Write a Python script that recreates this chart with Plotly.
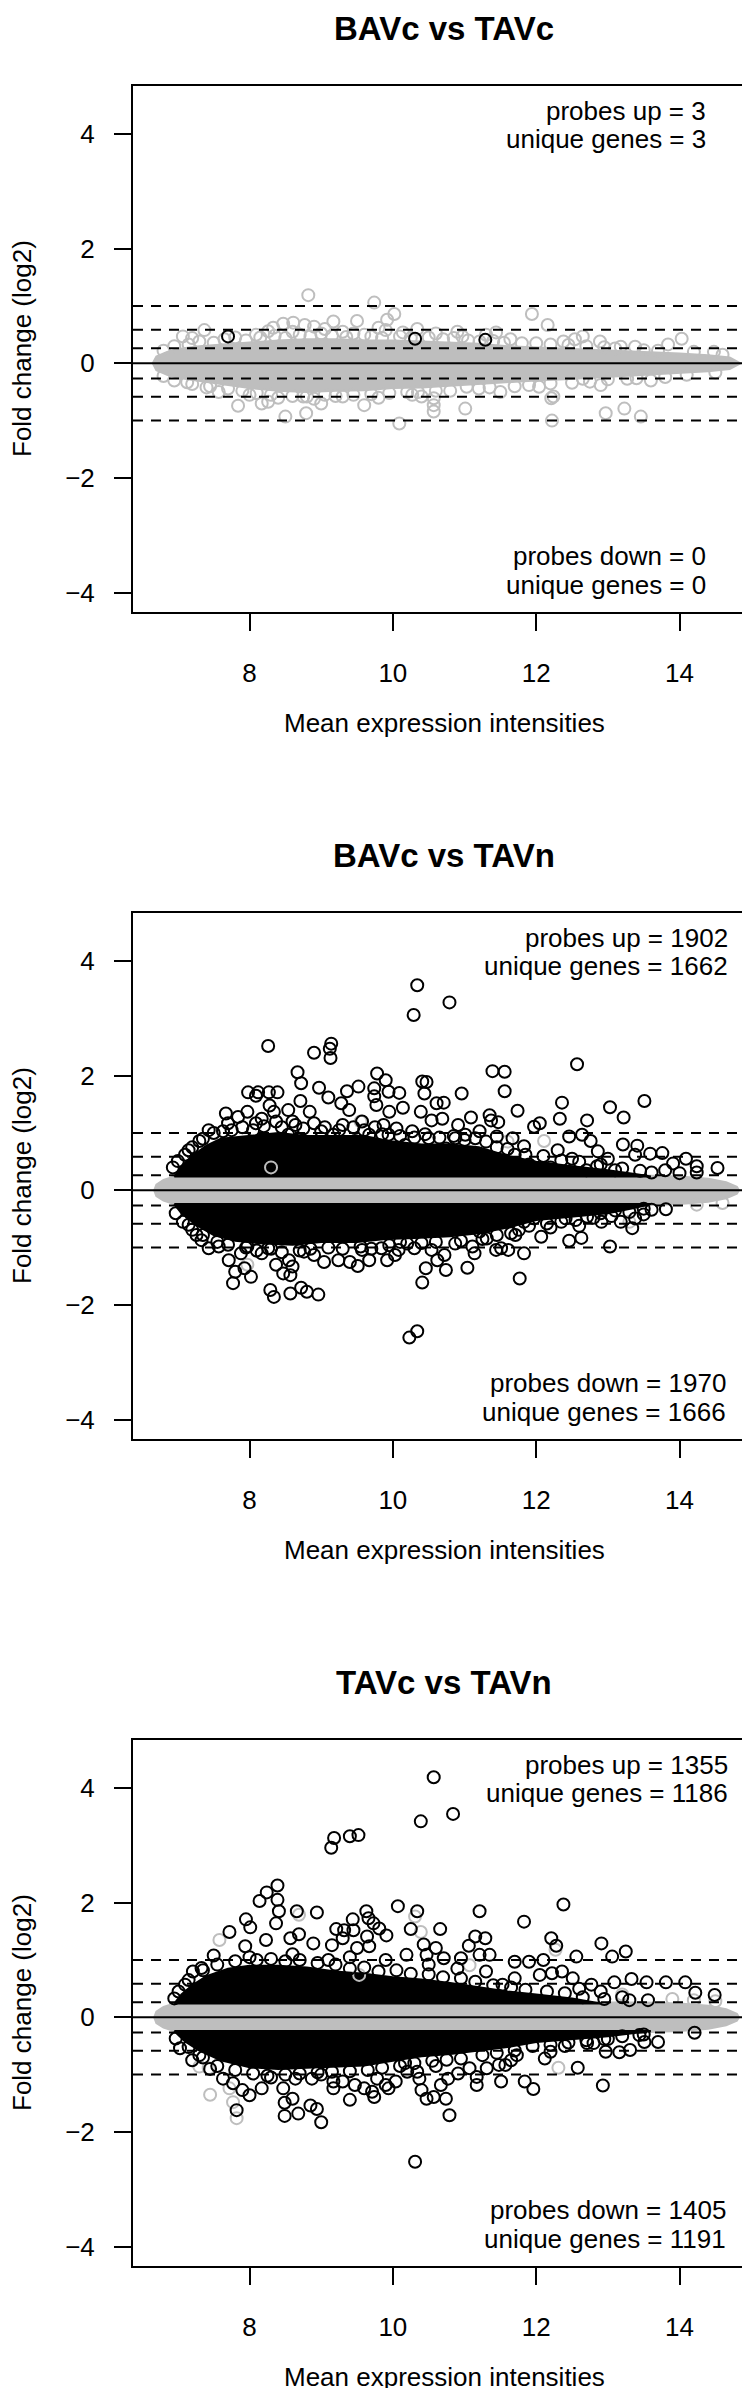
import plotly.graph_objects as go

# ---------------- data ----------------
TITLES = ["BAVc vs TAVc", "BAVc vs TAVn", "TAVc vs TAVn"]
PROBES_UP = [3, 1902, 1355]
GENES_UP = [3, 1662, 1186]
PROBES_DOWN = [0, 1970, 1405]
GENES_DOWN = [0, 1666, 1191]
X_TICKS = [8, 10, 12, 14]
Y_TICKS = [-4, -2, 0, 2, 4]
DASH_LEVELS = [1.0, 0.585, 0.263, -0.263, -0.585, -1.0]
X_RANGE = [6.374, 15.067]
Y_RANGE = [-4.34, 4.84]
X_LABEL = "Mean expression intensities"
Y_LABEL = "Fold change (log2)"

# dense grey band (non-significant probes) outline, per panel
P1_GREY_BAND = [(6.65, 0.0), (6.7, 0.12), (6.85, 0.2), (7.0, 0.25), (7.3, 0.3), (7.6, 0.33), (8.0, 0.36),
                (8.4, 0.4), (8.8, 0.42), (9.2, 0.42), (9.6, 0.4), (10.0, 0.4), (10.4, 0.38), (10.8, 0.36),
                (11.2, 0.34), (11.6, 0.3), (12.0, 0.28), (12.4, 0.26), (12.8, 0.24), (13.2, 0.21), (13.6, 0.19),
                (14.0, 0.17), (14.4, 0.14), (14.7, 0.1), (14.85, 0.0), (14.7, -0.1), (14.4, -0.14), (14.0, -0.17),
                (13.6, -0.2), (13.2, -0.22), (12.8, -0.26), (12.4, -0.28), (12.0, -0.3), (11.6, -0.33),
                (11.2, -0.36), (10.8, -0.4), (10.4, -0.42), (10.0, -0.43), (9.6, -0.47), (9.2, -0.48),
                (8.8, -0.5), (8.4, -0.48), (8.0, -0.43), (7.6, -0.36), (7.3, -0.3), (7.0, -0.25),
                (6.85, -0.2), (6.7, -0.12)]
P23_GREY_BAND = [(6.67, 0.0), (6.70, 0.10), (6.80, 0.18), (6.95, 0.24), (7.2, 0.26), (13.5, 0.26),
                 (14.0, 0.24), (14.4, 0.2), (14.65, 0.14), (14.8, 0.06), (14.83, 0.0), (14.8, -0.06),
                 (14.65, -0.14), (14.4, -0.2), (14.0, -0.24), (13.5, -0.26), (7.2, -0.26), (6.95, -0.24),
                 (6.8, -0.18), (6.70, -0.10)]

# individual grey circles outside the dense band
P1_GREY = [(8.82, 1.19), (9.74, 1.06), (10.02, 0.86), (9.92, 0.76), (9.50, 0.74), (9.17, 0.73), (11.94, 0.86),
           (12.16, 0.67), (14.03, 0.43), (8.47, 0.69), (8.61, 0.71), (8.77, 0.67), (8.33, 0.62), (8.90, 0.64),
           (10.34, 0.60), (10.14, 0.54), (11.44, 0.54), (11.64, 0.42), (12.54, 0.42), (12.65, 0.47),
           (12.89, 0.38), (13.38, 0.29), (13.84, 0.33), (7.07, 0.47), (7.37, 0.58), (7.20, 0.44), (8.09, 0.50),
           (8.26, 0.56), (10.97, 0.47), (11.21, 0.38), (12.38, 0.38), (13.18, 0.29), (14.48, 0.20),
           (9.3, 0.55), (9.6, 0.5), (9.9, 0.58), (10.6, 0.52), (10.9, 0.55), (11.3, 0.5), (7.8, 0.45),
           (8.6, 0.55), (9.05, 0.6), (9.8, 0.62),
           (6.8, 0.22), (6.95, 0.3), (7.15, 0.33), (7.3, 0.38), (7.5, 0.36), (7.65, 0.42), (7.95, 0.4),
           (8.15, 0.45), (8.35, 0.48), (8.5, 0.44), (8.7, 0.5), (8.85, 0.47), (9.0, 0.52), (9.15, 0.48),
           (9.35, 0.46), (9.45, 0.52), (9.7, 0.47), (9.85, 0.44), (10.1, 0.47), (10.25, 0.44), (10.5, 0.45),
           (10.7, 0.42), (10.85, 0.44), (11.05, 0.4), (11.4, 0.39), (11.55, 0.36), (11.8, 0.35), (12.0, 0.35),
           (12.2, 0.33), (12.45, 0.32), (12.7, 0.3), (12.95, 0.28), (13.1, 0.26), (13.5, 0.23), (13.7, 0.22),
           (14.2, 0.2), (14.6, 0.15),
           (10.09, -1.05), (12.22, -1.00), (12.97, -0.87), (13.23, -0.79), (13.46, -0.93), (8.50, -0.93),
           (8.79, -0.87), (7.84, -0.74), (8.17, -0.70), (8.26, -0.67), (9.00, -0.70), (9.60, -0.73),
           (10.57, -0.84), (10.57, -0.73), (10.57, -0.61), (11.01, -0.79), (12.21, -0.61), (8.75, -0.58),
           (10.27, -0.55), (12.24, -0.58), (7.13, -0.33), (7.57, -0.50), (12.04, -0.41), (12.65, -0.27),
           (13.27, -0.27), (11.03, -0.41), (8.0, -0.55), (8.4, -0.6), (8.9, -0.62), (9.3, -0.58),
           (9.8, -0.6), (10.4, -0.58), (11.5, -0.5), (12.9, -0.38), (13.6, -0.3), (7.4, -0.42),
           (6.8, -0.22), (6.95, -0.3), (7.2, -0.36), (7.45, -0.4), (7.7, -0.44), (7.9, -0.48), (8.1, -0.52),
           (8.3, -0.55), (8.6, -0.57), (8.8, -0.58), (9.05, -0.55), (9.2, -0.57), (9.45, -0.55), (9.7, -0.54),
           (9.95, -0.52), (10.2, -0.5), (10.35, -0.5), (10.6, -0.48), (10.8, -0.48), (11.2, -0.44),
           (11.35, -0.42), (11.7, -0.4), (11.9, -0.38), (12.2, -0.35), (12.5, -0.34), (12.75, -0.32),
           (13.0, -0.28), (13.4, -0.26), (13.8, -0.24), (14.1, -0.2), (14.5, -0.16)]
P2_GREY = [(12.11, 0.86), (7.97, -1.30), (14.24, -0.25), (14.6, -0.22), (11.6, 0.85), (13.3, -0.55),
           (9.55, 1.2), (8.3, 0.4)]
P3_GREY = [(7.58, 1.35), (7.82, -1.76), (7.77, -1.48), (7.45, -1.35), (7.72, -1.24), (12.31, -0.88),
           (7.43, -0.89), (7.30, -0.86), (8.69, 1.79), (10.31, 1.76), (10.39, 1.49), (12.27, 1.18),
           (11.07, 0.91), (9.53, 0.74), (13.9, 0.32), (14.2, 0.3), (14.5, 0.28), (13.2, 0.4)]

# dense black clouds (significant probes) outline, per panel
P2_UP_CORE = [(6.95, 0.24), (7.05, 0.42), (7.2, 0.6), (7.4, 0.78), (7.6, 0.9), (8.0, 0.95), (8.4, 1.0),
              (8.8, 0.95), (9.2, 0.95), (9.6, 0.95), (10.0, 0.85), (10.4, 0.8), (10.8, 0.8), (11.2, 0.75),
              (11.6, 0.6), (12.0, 0.5), (12.5, 0.42), (13.0, 0.35), (13.4, 0.28), (13.6, 0.24)]
P2_DOWN_CORE = [(6.95, -0.24), (7.05, -0.4), (7.25, -0.6), (7.5, -0.78), (7.8, -0.88), (8.2, -0.93),
                (8.6, -0.95), (9.0, -0.9), (9.5, -0.9), (9.9, -0.85), (10.3, -0.83), (10.8, -0.8),
                (11.2, -0.75), (11.6, -0.65), (12.0, -0.52), (12.5, -0.46), (13.0, -0.4), (13.4, -0.3),
                (13.6, -0.24)]
P3_UP_CORE = [(6.95, 0.24), (7.05, 0.4), (7.2, 0.56), (7.4, 0.72), (7.7, 0.85), (8.0, 0.9), (8.4, 0.9),
              (8.8, 0.87), (9.2, 0.8), (9.6, 0.76), (10.0, 0.7), (10.4, 0.66), (10.8, 0.6), (11.2, 0.52),
              (11.6, 0.45), (12.0, 0.4), (12.5, 0.33), (12.9, 0.24)]
P3_DOWN_CORE = [(6.95, -0.24), (7.1, -0.42), (7.3, -0.58), (7.6, -0.75), (8.0, -0.87), (8.4, -0.9),
                (8.8, -0.88), (9.2, -0.86), (9.6, -0.84), (10.0, -0.76), (10.4, -0.68), (10.8, -0.64),
                (11.2, -0.58), (11.6, -0.52), (12.0, -0.43), (12.5, -0.38), (13.0, -0.33), (13.4, -0.27),
                (13.6, -0.24)]

# individual black circles (significant probes)
P1_BLACK = [(7.70, 0.47), (10.31, 0.43), (11.29, 0.41)]
P2_BLACK = [(10.34, 3.58), (10.79, 3.28), (10.29, 3.06), (8.26, 2.52), (8.90, 2.40), (9.14, 2.56), (9.12, 2.47),
            (9.13, 2.31), (12.57, 2.20), (8.67, 2.06), (8.72, 1.87), (9.78, 2.04), (9.90, 1.92), (10.41, 1.90),
            (10.47, 1.89), (10.44, 1.69), (11.39, 2.08), (11.56, 2.07), (11.56, 1.73), (10.96, 1.69),
            (7.98, 1.71), (8.12, 1.71), (8.27, 1.71), (8.39, 1.71), (8.09, 1.65), (8.97, 1.79), (9.10, 1.62),
            (9.36, 1.73), (9.52, 1.81), (9.74, 1.78), (9.94, 1.72), (10.09, 1.70), (9.74, 1.64), (10.14, 1.44),
            (8.28, 1.48), (8.71, 1.56), (8.54, 1.40), (8.84, 1.37), (9.28, 1.52), (9.39, 1.40), (9.95, 1.37),
            (9.77, 1.49), (10.61, 1.52), (10.71, 1.53), (10.39, 1.37), (10.69, 1.25), (10.54, 1.22),
            (11.09, 1.27), (11.35, 1.31), (11.74, 1.39), (12.36, 1.53), (12.33, 1.25), (12.71, 1.22),
            (13.03, 1.45), (13.22, 1.27), (13.51, 1.56), (13.21, 0.80), (13.41, 0.78), (13.59, 0.64),
            (13.76, 0.65), (13.91, 0.47), (14.09, 0.55), (14.24, 0.42), (14.53, 0.39), (14.24, 0.31),
            (13.61, 0.31), (13.38, 0.62), (12.86, 0.68), (12.64, 0.97), (12.76, 0.86), (12.46, 0.94),
            (11.97, 1.11), (12.05, 1.17), (11.47, 1.19), (11.37, 1.22), (11.45, 0.94), (11.67, 0.91),
            (11.83, 0.77), (11.70, 0.62), (10.91, 1.14), (11.01, 0.97), (11.21, 1.03), (11.15, 0.91),
            (10.87, 0.91), (10.74, 0.73), (10.50, 0.91), (10.27, 1.03), (10.05, 1.08), (10.17, 0.79),
            (9.87, 1.14), (9.94, 0.97), (9.57, 1.20), (9.67, 0.97), (9.47, 0.86), (9.30, 1.14), (9.17, 0.97),
            (9.00, 1.03), (8.90, 1.17), (8.64, 1.14), (8.54, 0.97), (8.37, 1.20), (8.17, 1.25), (8.34, 1.37),
            (8.09, 1.17), (7.97, 1.37), (7.84, 1.28), (7.67, 1.34), (7.70, 1.17), (7.43, 1.05), (7.63, 1.03),
            (7.30, 0.86), (7.20, 0.75), (7.10, 0.62), (7.00, 0.51), (6.93, 0.40), (12.2, 0.4), (12.5, 0.55),
            (12.9, 0.45), (13.1, 0.35), (12.3, 0.7), (13.0, 0.55), (13.8, 0.35), (14.0, 0.3), (12.7, 0.35),
            (11.9, 0.45),
            (7.15, 0.7), (7.35, 0.9), (7.5, 1.0), (7.75, 1.05), (7.9, 1.1), (8.05, 1.05), (8.2, 1.12),
            (8.45, 1.1), (8.6, 1.2), (8.75, 1.08), (9.05, 1.1), (9.25, 1.05), (9.45, 1.1), (9.6, 1.05),
            (9.75, 1.1), (9.85, 0.98), (10.1, 0.95), (10.3, 0.92), (10.45, 0.98), (10.65, 0.92), (10.85, 0.95),
            (11.0, 0.88), (11.3, 0.85), (11.45, 0.75), (11.6, 0.72), (11.85, 0.62), (12.1, 0.6), (12.35, 0.52),
            (12.6, 0.5), (12.85, 0.42), (13.2, 0.38), (13.45, 0.34),
            (10.23, -2.57), (10.34, -2.46), (11.77, -1.54), (10.41, -1.61), (8.29, -1.74), (8.34, -1.86),
            (8.57, -1.80), (8.72, -1.70), (8.80, -1.77), (8.96, -1.82), (7.77, -1.62), (7.80, -1.42),
            (7.93, -1.36), (8.02, -1.51), (7.71, -1.22), (8.37, -1.30), (8.47, -1.45), (8.57, -1.48),
            (8.60, -1.33), (8.55, -1.22), (8.17, -1.10), (9.04, -1.25), (9.24, -1.22), (9.40, -1.25),
            (9.51, -1.32), (9.67, -1.22), (9.92, -1.22), (10.10, -0.90), (10.08, -1.04), (10.46, -1.36),
            (10.62, -1.22), (10.74, -1.39), (10.72, -1.13), (11.04, -1.35), (11.14, -1.10), (11.11, -0.98),
            (10.87, -0.93), (11.83, -1.10), (11.61, -1.04), (11.51, -1.01), (11.44, -1.04), (12.07, -0.81),
            (12.46, -0.88), (12.63, -0.83), (13.03, -0.98), (13.38, -0.49), (13.34, -0.66), (13.18, -0.55),
            (13.61, -0.34), (13.81, -0.33), (12.91, -0.55), (12.71, -0.46), (12.41, -0.49), (12.24, -0.37),
            (11.97, -0.49), (11.83, -0.55), (11.31, -0.84), (11.21, -0.72), (11.71, -0.78), (11.76, -0.69),
            (7.43, -1.01), (7.57, -0.98), (7.20, -0.69), (6.97, -0.40), (7.07, -0.55), (7.26, -0.78),
            (7.33, -0.87), (7.88, -1.10), (7.97, -0.98), (8.26, -1.01), (8.76, -1.07), (8.90, -1.13),
            (9.57, -1.04), (9.84, -1.01), (10.03, -1.13), (10.30, -1.01), (10.54, -1.04), (12.9, -0.4),
            (13.1, -0.35), (12.6, -0.62), (12.2, -0.65), (13.5, -0.42),
            (7.15, -0.6), (7.35, -0.78), (7.55, -0.9), (7.7, -0.95), (7.95, -1.0), (8.1, -1.05), (8.3, -1.02),
            (8.45, -1.08), (8.7, -1.05), (8.85, -1.02), (9.1, -1.0), (9.3, -1.02), (9.55, -0.98), (9.7, -1.02),
            (9.95, -0.96), (10.2, -0.93), (10.4, -0.92), (10.6, -0.9), (10.95, -0.88), (11.25, -0.85),
            (11.45, -0.78), (11.65, -0.75), (11.9, -0.62), (12.15, -0.58), (12.35, -0.55), (12.55, -0.52),
            (12.8, -0.48), (13.05, -0.45), (13.3, -0.38), (13.5, -0.32)]
P3_BLACK = [(10.57, 4.19), (10.84, 3.55), (10.39, 3.42), (9.52, 3.18), (9.40, 3.16), (9.18, 3.13), (9.14, 2.96),
            (8.39, 2.30), (8.24, 2.18), (8.14, 2.03), (8.39, 2.05), (8.41, 1.85), (8.37, 1.64), (8.66, 1.85),
            (8.94, 1.83), (7.95, 1.71), (8.01, 1.57), (7.72, 1.49), (10.07, 1.94), (10.34, 1.85), (11.21, 1.85),
            (12.38, 1.97), (11.83, 1.67), (10.66, 1.54), (10.25, 1.54), (9.63, 1.85), (9.66, 1.73), (9.73, 1.64),
            (9.44, 1.71), (9.21, 1.54), (9.32, 1.52), (9.45, 1.52), (9.81, 1.55), (9.91, 1.43), (9.64, 1.41),
            (9.67, 1.24), (9.50, 1.21), (11.15, 1.41), (11.29, 1.38), (10.43, 1.27), (10.60, 1.21), (11.06, 1.25),
            (11.21, 1.09), (11.35, 1.09), (12.21, 1.38), (12.28, 1.25), (12.56, 1.06), (12.91, 1.29),
            (13.06, 1.06), (13.25, 1.15), (13.09, 0.61), (13.33, 0.67), (13.54, 0.61), (13.81, 0.61),
            (14.08, 0.61), (14.22, 0.43), (14.49, 0.39), (13.56, 0.30), (12.10, 1.00), (11.90, 0.97),
            (11.70, 0.97), (12.22, 0.77), (12.36, 0.80), (12.51, 0.68), (12.77, 0.57), (12.05, 0.74),
            (11.70, 0.68), (11.53, 0.57), (7.50, 1.08), (7.33, 0.86), (7.21, 0.80), (7.10, 0.57), (7.01, 0.45),
            (6.95, 0.33), (7.94, 1.24), (8.23, 1.35), (8.57, 1.38), (8.89, 1.29), (8.69, 1.45), (9.15, 1.26),
            (9.30, 1.38), (10.19, 1.09), (10.47, 1.09), (10.71, 1.03), (10.95, 1.03), (12.9, 0.45),
            (13.2, 0.35), (12.6, 0.5), (11.3, 0.8), (10.9, 0.85), (10.5, 0.92), (9.9, 1.0), (9.4, 1.05),
            (8.0, 1.05), (8.6, 1.1), (9.1, 1.0),
            (7.15, 0.65), (7.35, 0.82), (7.55, 0.92), (7.8, 0.98), (8.1, 1.0), (8.3, 1.02), (8.5, 0.98),
            (8.7, 1.0), (8.95, 0.95), (9.2, 0.92), (9.4, 0.85), (9.6, 0.87), (9.8, 0.8), (10.05, 0.82),
            (10.25, 0.76), (10.5, 0.75), (10.7, 0.7), (10.95, 0.68), (11.15, 0.62), (11.4, 0.56), (11.65, 0.52),
            (11.85, 0.48), (12.15, 0.45), (12.4, 0.42), (12.65, 0.35), (12.95, 0.32), (13.3, 0.3),
            (10.31, -2.52), (9.00, -1.83), (10.79, -1.71), (8.49, -1.72), (8.68, -1.68), (8.85, -1.54),
            (8.94, -1.60), (8.49, -1.49), (8.60, -1.42), (7.82, -1.62), (9.40, -1.44), (9.60, -1.24),
            (9.74, -1.39), (9.71, -1.30), (9.94, -1.24), (10.37, -1.07), (10.40, -1.27), (10.47, -1.42),
            (10.57, -1.39), (10.74, -1.42), (10.67, -1.18), (10.77, -1.07), (10.91, -0.98), (10.34, -0.95),
            (11.17, -1.04), (11.17, -1.18), (11.51, -1.12), (11.84, -1.12), (11.96, -1.25), (12.58, -0.88),
            (12.93, -1.19), (12.12, -0.72), (12.71, -0.45), (12.97, -0.60), (13.16, -0.61), (13.31, -0.57),
            (13.51, -0.43), (13.70, -0.43), (14.21, -0.27), (13.44, -0.31), (11.57, -0.83), (11.65, -0.75),
            (11.73, -0.66), (11.48, -0.83), (11.31, -0.89), (11.07, -0.89), (10.17, -0.80), (10.04, -1.12),
            (9.90, -1.18), (9.78, -1.07), (9.47, -1.18), (9.30, -1.12), (9.17, -1.24), (9.17, -1.12),
            (8.87, -1.07), (8.64, -1.07), (8.47, -1.24), (8.17, -1.24), (8.00, -1.36), (7.90, -1.27),
            (7.77, -1.15), (7.63, -1.07), (7.20, -0.75), (7.03, -0.54), (6.97, -0.37), (7.30, -0.66),
            (12.4, -0.5), (12.2, -0.6), (12.8, -0.45), (13.0, -0.38), (7.45, -0.9), (8.3, -1.05),
            (9.0, -1.0), (10.2, -0.95), (10.6, -0.85),
            (7.15, -0.52), (7.35, -0.7), (7.55, -0.85), (7.8, -0.92), (8.05, -0.98), (8.25, -1.02), (8.5, -1.0),
            (8.7, -0.98), (8.95, -0.96), (9.15, -0.95), (9.4, -0.94), (9.65, -0.92), (9.85, -0.88), (10.1, -0.85),
            (10.3, -0.8), (10.55, -0.76), (10.75, -0.74), (10.95, -0.72), (11.25, -0.66), (11.45, -0.62),
            (11.7, -0.58), (11.95, -0.5), (12.2, -0.48), (12.45, -0.44), (12.7, -0.4), (12.95, -0.38),
            (13.2, -0.33), (13.5, -0.3)]

PANELS = [
    dict(band=P1_GREY_BAND, grey=P1_GREY, cores=[], black=P1_BLACK, text_right_top=700, text_right_bot=700),
    dict(band=P23_GREY_BAND, grey=P2_GREY, cores=[P2_UP_CORE, P2_DOWN_CORE], black=P2_BLACK,
         text_right_top=722, text_right_bot=720),
    dict(band=P23_GREY_BAND, grey=P3_GREY, cores=[P3_UP_CORE, P3_DOWN_CORE], black=P3_BLACK,
         text_right_top=722, text_right_bot=720),
]

# ---------------- layout (pixels) ----------------
W, H = 750, 2388
STEP = 827
BOX_L, BOX_R, BOX_T, BOX_B = 125, 748, 78, 604
FONT = "Liberation Sans, Arial, Helvetica, sans-serif"
GREY = "#BEBEBE"
MSIZE = 12


def px(x):
    return x / W


def py(y):
    return 1 - y / H


fig = go.Figure()
annotations = []
shapes = []
layout_axes = {}

for i, p in enumerate(PANELS):
    k = "" if i == 0 else str(i + 1)
    xa, ya = "x" + k, "y" + k
    off = STEP * i

    bx, by = zip(*p["band"])
    fig.add_trace(go.Scatter(x=list(bx) + [bx[0]], y=list(by) + [by[0]], xaxis=xa, yaxis=ya, mode="lines",
                             fill="toself", fillcolor=GREY, line=dict(color=GREY, width=2),
                             hoverinfo="skip", showlegend=False))
    for core in p["cores"]:
        cx, cy = zip(*core)
        fig.add_trace(go.Scatter(x=list(cx) + [cx[0]], y=list(cy) + [cy[0]], xaxis=xa, yaxis=ya,
                                 mode="lines", fill="toself", fillcolor="black",
                                 line=dict(color="black", width=2), hoverinfo="skip", showlegend=False))
    gx, gy = zip(*p["grey"])
    fig.add_trace(go.Scatter(x=gx, y=gy, xaxis=xa, yaxis=ya, mode="markers",
                             marker=dict(symbol="circle-open", size=MSIZE, color=GREY, line=dict(width=2)),
                             showlegend=False))
    kx, ky = zip(*p["black"])
    fig.add_trace(go.Scatter(x=kx, y=ky, xaxis=xa, yaxis=ya, mode="markers",
                             marker=dict(symbol="circle-open", size=MSIZE, color="black", line=dict(width=2)),
                             showlegend=False))

    common = dict(showline=True, linecolor="black", linewidth=2, mirror=True, ticks="outside", ticklen=17,
                  tickwidth=2, tickcolor="black", showgrid=False, zeroline=False,
                  tickfont=dict(family=FONT, size=26, color="black"))
    layout_axes["xaxis" + k] = dict(common, domain=[px(BOX_L), px(BOX_R)], range=X_RANGE, anchor=ya,
                                    tickvals=X_TICKS, ticklabelstandoff=20)
    layout_axes["yaxis" + k] = dict(common, domain=[py(BOX_B + off), py(BOX_T + off)], range=Y_RANGE,
                                    anchor=xa, tickvals=Y_TICKS, ticklabelstandoff=14)

    shapes.append(dict(type="line", xref=xa + " domain", yref=ya, x0=0, x1=1, y0=0, y1=0,
                       line=dict(color="black", width=2), layer="above"))
    for lv in DASH_LEVELS:
        shapes.append(dict(type="line", xref=xa + " domain", yref=ya, x0=0, x1=1, y0=lv, y1=lv,
                           line=dict(color="black", width=2, dash="10px,8px"), layer="above"))

    cx_mid = px((BOX_L + BOX_R) / 2)
    annotations.append(dict(text="<b>%s</b>" % TITLES[i], x=cx_mid, y=py(off), xref="paper",
                            yref="paper", showarrow=False, xanchor="center", yanchor="top",
                            font=dict(family=FONT, size=33, color="black")))
    annotations.append(dict(text=X_LABEL, x=cx_mid, y=py(715 + off), xref="paper", yref="paper",
                            showarrow=False, xanchor="center", yanchor="middle",
                            font=dict(family=FONT, size=26, color="black")))
    annotations.append(dict(text=Y_LABEL, x=px(14), y=py((BOX_T + BOX_B) / 2 + off), xref="paper",
                            yref="paper", showarrow=False, xanchor="center", yanchor="middle", textangle=-90,
                            font=dict(family=FONT, size=26, color="black")))
    lines = [("probes up = %d" % PROBES_UP[i], 103, p["text_right_top"]),
             ("unique genes = %d" % GENES_UP[i], 131, p["text_right_top"]),
             ("probes down = %d" % PROBES_DOWN[i], 548, p["text_right_bot"]),
             ("unique genes = %d" % GENES_DOWN[i], 577, p["text_right_bot"])]
    for txt, yy, xr in lines:
        annotations.append(dict(text=txt, x=px(xr), y=py(yy + off), xref="paper", yref="paper",
                                showarrow=False, xanchor="right", yanchor="middle",
                                font=dict(family=FONT, size=26, color="black")))

fig.update_layout(width=W, height=H, margin=dict(l=0, r=0, t=0, b=0), paper_bgcolor="white",
                  plot_bgcolor="white", showlegend=False, annotations=annotations, shapes=shapes,
                  **layout_axes)
fig.write_html("out.html")
